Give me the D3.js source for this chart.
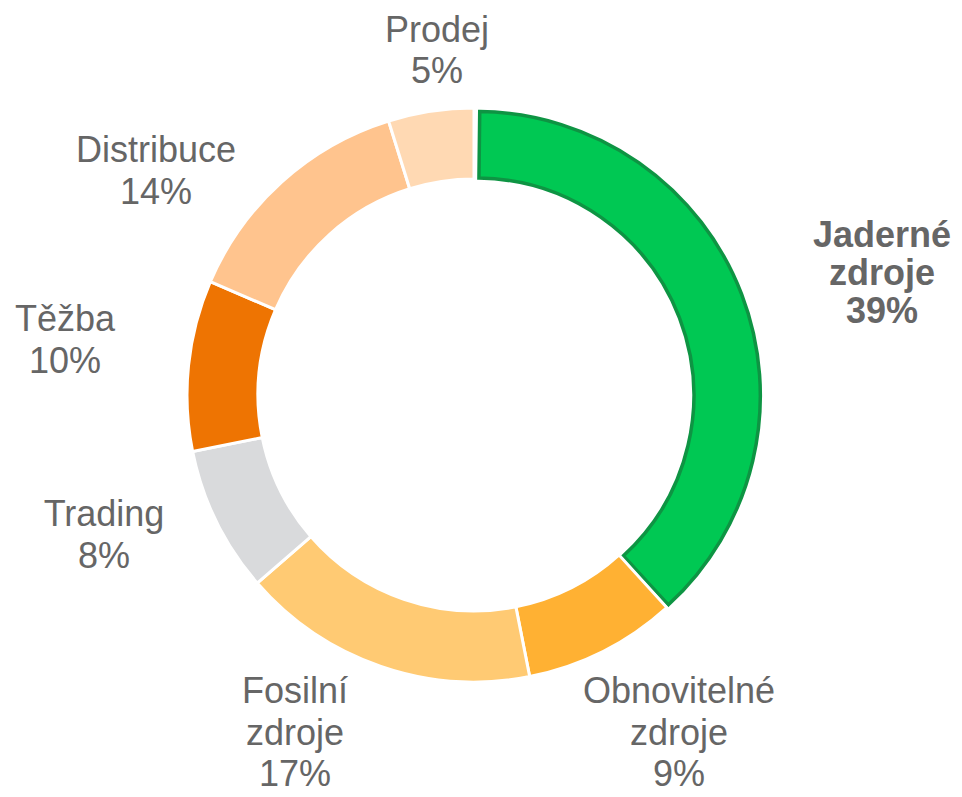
<!DOCTYPE html>
<html>
<head>
<meta charset="utf-8">
<script src="https://cdn.jsdelivr.net/npm/d3@7"></script>
<style>
  body { margin: 0; background: #fff; }
  svg { display: block; font-family: "Liberation Sans", Arial, sans-serif; }
</style>
</head>
<body>
<svg id="chart" width="962" height="797"></svg>
<script>
// data (clockwise from 12 o'clock)
var categories = ["Jaderné zdroje", "Obnovitelné zdroje", "Fosilní zdroje", "Trading", "Těžba", "Distribuce", "Prodej"];
var shares = [38.2, 8.6, 16.7, 8.2, 9.6, 13.7, 4.8];
var pctLabels = ["39%", "9%", "17%", "8%", "10%", "14%", "5%"];
var colors = ["#00C853", "#FFB133", "#FFCA73", "#D9DADC", "#EE7402", "#FFC48E", "#FFD9B3"];

// label lines + where excel placed them
var labelLines = [
    ["Jaderné", "zdroje"], ["Obnovitelné", "zdroje"], ["Fosilní", "zdroje"],
    ["Trading"], ["Těžba"], ["Distribuce"], ["Prodej"]
];
var labelAt = [
    {x: 882, y: 247, lh: 38}, {x: 679, y: 703, lh: 41.5}, {x: 295, y: 703, lh: 41.5},
    {x: 104, y: 526, lh: 41.5}, {x: 65, y: 331, lh: 42}, {x: 156, y: 162, lh: 41.5},
    {x: 437, y: 42, lh: 41}
];

var cx = 474, cy = 395, rOut = 287, rIn = 216;

var svg = d3.select("#chart");
var g = svg.append("g").attr("transform", "translate(" + cx + "," + cy + ")");

var pie = d3.pie().sort(null).value(d => d);
var arcs = pie(shares);

var arc = d3.arc().innerRadius(rIn).outerRadius(rOut);
var arcBig = d3.arc().innerRadius(rIn + 1.5).outerRadius(rOut - 3);

g.selectAll("path.slice").data(arcs).enter().append("path")
    .attr("class", "slice")
    .attr("d", (d, i) => {
        if (i == 0) {
            return arcBig({startAngle: d.startAngle + 0.012, endAngle: d.endAngle - 0.006});
        }
        return arc(d);
    })
    .attr("transform", (d, i) => {
        if (i != 0) return null;
        let a = (d.startAngle + d.endAngle) / 2, off = 2.5;
        return "translate(" + (Math.sin(a) * off) + "," + (-Math.cos(a) * off + 1.5) + ")";
    })
    .style("fill", (d, i) => colors[i])
    .style("stroke", (d, i) => i == 0 ? "#0E9443" : "#fff")
    .style("stroke-width", (d, i) => i == 0 ? 3.5 : 3)
    .style("stroke-linejoin", "miter");

// labels
var lbl = svg.selectAll("text.lbl").data(categories).enter().append("text")
    .attr("class", "lbl")
    .attr("text-anchor", "middle")
    .style("font-size", "36px")
    .style("font-weight", (d, i) => i == 0 ? "bold" : "normal")
    .style("fill", "#666");

lbl.each(function(d, i) {
    let t = d3.select(this), p = labelAt[i];
    let lines = labelLines[i].concat([pctLabels[i]]);
    lines.forEach((s, k) => {
        t.append("tspan").attr("x", p.x).attr("y", p.y + k * p.lh).text(s);
    });
});
</script>
</body>
</html>
